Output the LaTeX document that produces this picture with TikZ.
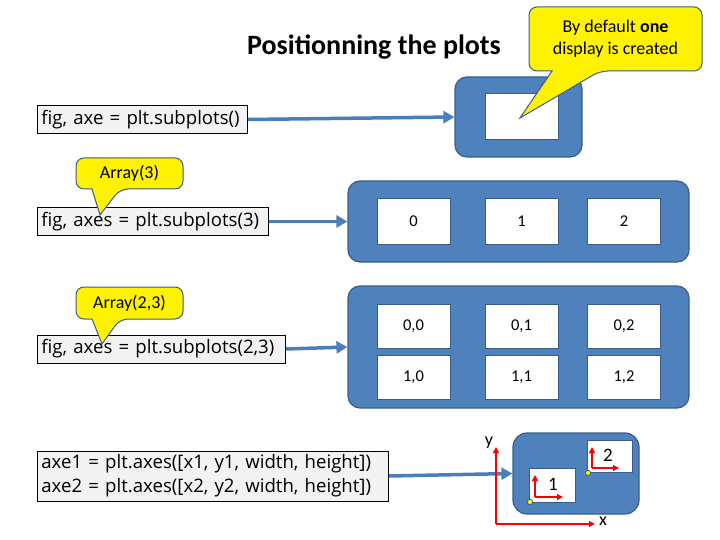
\documentclass[tikz,border=0pt]{standalone}
\usepackage{fontspec}
\setmainfont{Carlito}
\newfontfamily\codefont{Open Sans}
\usetikzlibrary{arrows.meta}
\definecolor{panelblue}{HTML}{4F81BD}
\definecolor{paneledge}{HTML}{385D8A}
\definecolor{linkblue}{HTML}{4A7EBB}
\definecolor{codegray}{HTML}{F2F2F2}
\definecolor{dotyellow}{HTML}{FFFF00}
\tikzset{
	code/.style={draw=black, fill=codegray, line width=0.8pt, anchor=west, align=left,
		inner xsep=4pt, inner ysep=0pt, minimum height=28pt, font=\codefont\fontsize{18.6}{24}\selectfont},
	panel/.style={draw=paneledge, fill=panelblue, line width=1.2pt, rounded corners=12pt},
	plotbox/.style={draw=paneledge, fill=white, line width=1pt, font=\fontsize{16.5}{20}\selectfont},
	link/.style={draw=linkblue, line width=3.5pt, -{Triangle[length=11pt,width=12pt]}},
	callout/.style={draw=paneledge, fill=yellow, line width=1pt, rounded corners=8pt},
	note/.style={align=center, font=\fontsize{18}{22}\selectfont},
	axis/.style={draw=red, line width=1.8pt, -{Triangle[length=6pt,width=6pt]}},
	origin/.style={draw=paneledge, fill=dotyellow, line width=0.8pt},
}
\begin{document}
\begin{tikzpicture}[x=1pt, y=-1pt]
	\useasboundingbox (0,0) rectangle (720,540);
	\node [font=\bfseries\fontsize{28}{32}\selectfont] (title) at (374,47) {Positionning the plots};
	% one display
	\node [code, text width=202pt] (code1) at (37,119.5) {fig, axe = plt.subplots()};
	\node [panel, minimum width=127pt, minimum height=80pt] (fig1) at (518.5,117) {};
	\node [plotbox, minimum width=73pt, minimum height=46pt] (p0) at (521.5,117) {};
	\draw [link] (code1.east) -- (fig1.west);
	\draw [callout] (615,7) -- (702,7) -- (702,71) -- (600,71) {[sharp corners] -- (520,118) -- (552,71)} -- (529,71) -- (529,7) -- cycle;
	\node [note] (tip1) at (615.5,39) {By default \textbf{one}\\display is created};
	% three in a row
	\node [code, text width=223pt] (code2) at (37,221.5) {fig, axes = plt.subplots(3)};
	\node [panel, minimum width=341pt, minimum height=81pt] (fig2) at (518.5,221.5) {};
	\node [plotbox, minimum width=73pt, minimum height=45pt] (p1) at (413.5,221.5) {0};
	\node [plotbox, minimum width=73pt, minimum height=45pt] (p2) at (521.5,221.5) {1};
	\node [plotbox, minimum width=73pt, minimum height=45pt] (p3) at (624,221.5) {2};
	\draw [link] (code2.east) -- (fig2.west);
	\draw [callout] (129,158) -- (183,158) -- (183,189) -- (120,189) {[sharp corners] -- (100,215) -- (92,189)} -- (76,189) -- (76,158) -- cycle;
	\node [note] (tip2) at (129.5,173.5) {Array(3)};
	% two rows of three
	\node [code, text width=240pt] (code3) at (37,349) {fig, axes = plt.subplots(2,3)};
	\node [panel, minimum width=341pt, minimum height=122pt] (fig3) at (518.5,347) {};
	\node [plotbox, minimum width=73pt, minimum height=44pt] (p00) at (413.5,326) {0,0};
	\node [plotbox, minimum width=73pt, minimum height=44pt] (p01) at (521.5,326) {0,1};
	\node [plotbox, minimum width=73pt, minimum height=44pt] (p02) at (624,326) {0,2};
	\node [plotbox, minimum width=73pt, minimum height=44pt] (p10) at (413.5,377) {1,0};
	\node [plotbox, minimum width=73pt, minimum height=44pt] (p11) at (521.5,377) {1,1};
	\node [plotbox, minimum width=73pt, minimum height=44pt] (p12) at (624,377) {1,2};
	\draw [link] (code3.east) -- (fig3.west);
	\draw [callout] (129,287) -- (183,287) -- (183,319) -- (120,319) {[sharp corners] -- (102,344) -- (92,319)} -- (76,319) -- (76,287) -- cycle;
	\node [note] (tip3) at (129.5,303) {Array(2,3)};
	% free axes
	\node [code, text width=343pt, minimum height=50pt] (code4) at (37,476) {axe1 = plt.axes([x1, y1, width, height])\\axe2 = plt.axes([x2, y2, width, height])};
	\node [panel, rounded corners=14pt, minimum width=126pt, minimum height=81pt] (fig4) at (576,473.5) {};
	\draw [link] (code4.east) -- (fig4.west);
	\node [plotbox, minimum width=46pt, minimum height=34pt] (ax1) at (552,485) {};
	\node [plotbox, minimum width=45pt, minimum height=32pt] (ax2) at (609.5,456) {};
	\coordinate (o) at (496,524);
	\coordinate (ytop) at (496,447);
	\coordinate (xend) at (595,524);
	\draw [axis] (o) -- (ytop);
	\draw [axis] (o) -- (xend);
	\node [font=\fontsize{18}{20}\selectfont] (ylab) at (489,443) {y};
	\node [font=\fontsize{18}{20}\selectfont] (xlab) at (603,521) {x};
	\coordinate (o1) at (535,497);
	\draw [axis] (o1) -- (535,475);
	\draw [axis] (o1) -- (563,497);
	\node [font=\fontsize{19}{22}\selectfont] (n1) at (553,484) {1};
	\coordinate (o2) at (592,468);
	\draw [axis] (o2) -- (592,447);
	\draw [axis] (o2) -- (619,468);
	\node [font=\fontsize{19}{22}\selectfont] (n2) at (608,455) {2};
	\draw [origin] (530,502) circle (2.6pt);
	\draw [origin] (588,473) circle (2.6pt);
\end{tikzpicture}
\end{document}
